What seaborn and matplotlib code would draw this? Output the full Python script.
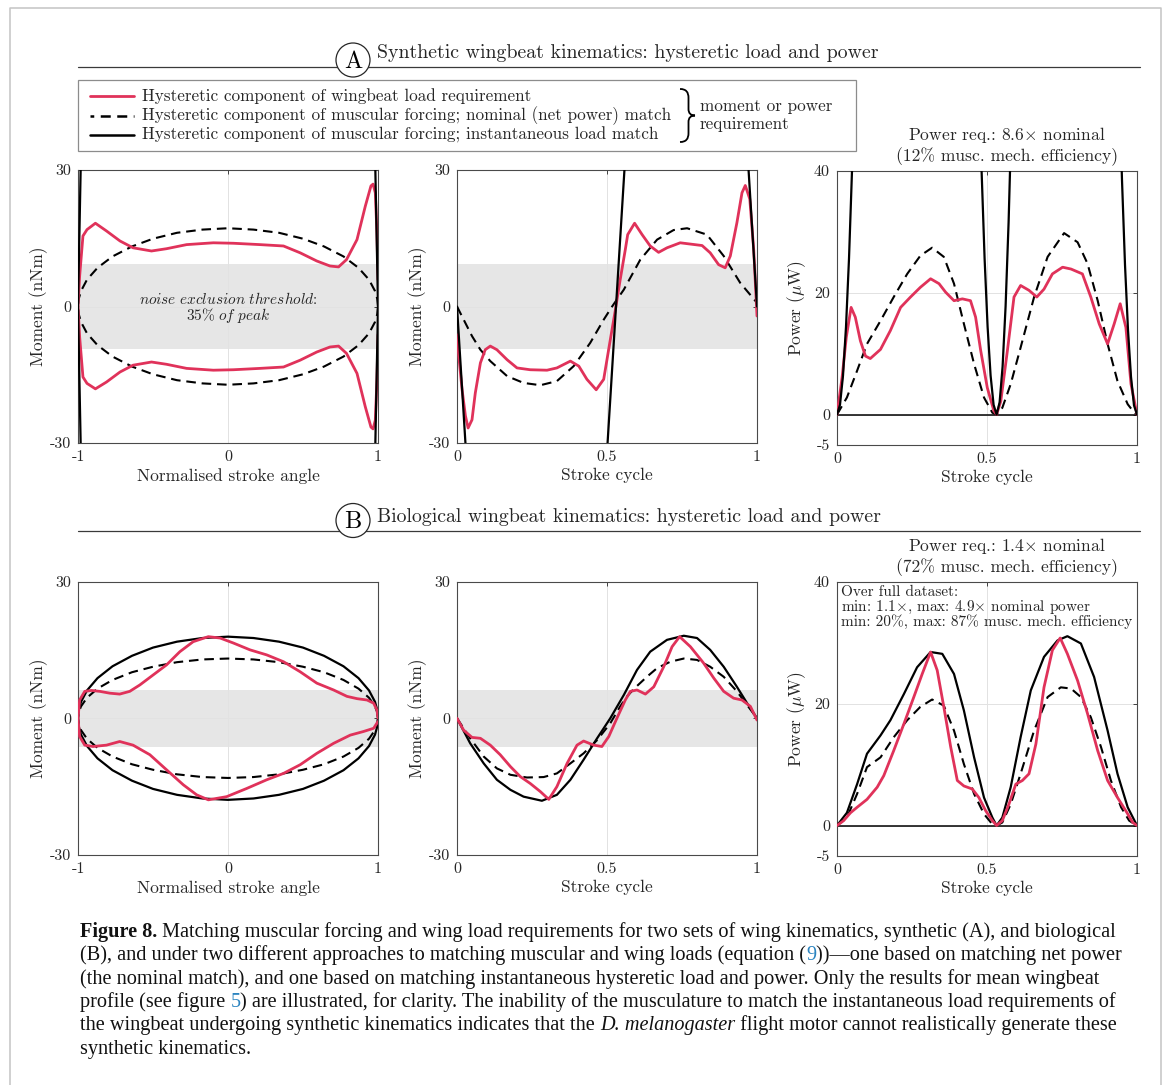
import matplotlib
matplotlib.use("Agg")
import matplotlib.pyplot as plt
import seaborn as sns
from matplotlib.patches import Circle, Rectangle, PathPatch
from matplotlib.path import Path

# ---------------------------------------------------------------- data
# Panel A (synthetic kinematics) -- moment vs stroke cycle
a_load_t = [0.000, 0.006, 0.017, 0.028, 0.037, 0.050, 0.061, 0.078, 0.094, 0.111, 0.133,
            0.167, 0.200, 0.244, 0.300, 0.333, 0.378, 0.406, 0.433, 0.464, 0.489, 0.511,
            0.528, 0.544, 0.561, 0.569, 0.592, 0.617, 0.644, 0.672, 0.700, 0.744, 0.817,
            0.844, 0.872, 0.894, 0.911, 0.933, 0.950, 0.961, 0.976, 0.989, 1.000]
a_load_m = [-6.2, -10.9, -18.3, -24.0, -26.7, -24.9, -19.0, -12.4, -9.5, -8.7, -9.5,
            -11.7, -13.5, -13.9, -14.0, -13.5, -12.0, -13.1, -16.0, -18.3, -16.0, -7.3,
            -0.7, 5.9, 12.5, 15.8, 18.3, 15.8, 13.3, 11.9, 12.9, 14.0, 13.4,
            11.8, 9.2, 8.5, 11.1, 18.4, 25.0, 26.6, 23.6, 12.5, -2.1]
a_nom_t = [0.0, 0.05, 0.078, 0.111, 0.167, 0.222, 0.278, 0.333, 0.389, 0.444, 0.489,
           0.517, 0.556, 0.611, 0.667, 0.722, 0.767, 0.833, 0.889, 0.944, 1.0]
a_nom_m = [0.0, -6.5, -9.5, -12.0, -15.3, -16.8, -17.3, -16.4, -13.1, -8.0, -2.9,
           0.0, 3.7, 10.3, 14.7, 16.8, 17.2, 15.8, 11.1, 5.2, 0.8]
a_inst_t = [0.0, 0.06, 0.27, 0.47, 0.53, 0.59, 0.77, 0.94, 1.0]
a_inst_m = [0.0, -64.0, -170.0, -64.0, 0.0, 64.0, 170.0, 64.0, 0.0]

# Panel A -- moment vs normalised stroke angle
a_ang_up = [-1.0, -0.989, -0.967, -0.94, -0.884, -0.81, -0.72, -0.633, -0.51, -0.41,
            -0.276, -0.098, 0.036, 0.214, 0.37, 0.481, 0.592, 0.68, 0.737, 0.79, 0.86,
            0.915, 0.953, 0.967, 0.982, 0.993, 1.0]
a_load_up = [0.0, 6.7, 15.5, 16.9, 18.3, 16.6, 14.4, 12.9, 12.2, 12.7, 13.6, 14.0, 13.9,
             13.6, 13.3, 11.8, 10.0, 8.9, 8.7, 10.3, 14.7, 22.0, 26.5, 26.9, 25.0, 16.2, 5.9]
a_ang_dn = [-1.0, -0.989, -0.967, -0.94, -0.884, -0.81, -0.72, -0.633, -0.51, -0.41,
            -0.276, -0.098, 0.036, 0.214, 0.37, 0.481, 0.592, 0.68, 0.737, 0.79, 0.86,
            0.915, 0.953, 0.967, 0.982, 0.993, 1.0]
a_load_dn = [0.0, -6.7, -15.5, -16.9, -18.1, -16.6, -14.4, -12.9, -12.2, -12.7, -13.6,
             -14.0, -13.9, -13.6, -13.3, -11.8, -10.0, -8.9, -8.7, -10.3, -14.7, -22.0,
             -26.5, -26.9, -25.0, -16.2, -6.2]
loop_angle = [1.0, 0.995, 0.98, 0.94, 0.87, 0.77, 0.64, 0.5, 0.34, 0.17, 0.0, -0.17,
              -0.34, -0.5, -0.64, -0.77, -0.87, -0.94, -0.98, -0.995, -1.0, -0.995,
              -0.98, -0.94, -0.87, -0.77, -0.64, -0.5, -0.34, -0.17, 0.0, 0.17, 0.34,
              0.5, 0.64, 0.77, 0.87, 0.94, 0.98, 0.995, 1.0]
a_nom_loop = [0.0, -1.7, -3.4, -5.9, -8.5, -11.0, -13.2, -14.9, -16.2, -16.9, -17.2,
              -16.9, -16.2, -14.9, -13.2, -11.0, -8.5, -5.9, -3.4, -1.7, 0.0, 1.7, 3.4,
              5.9, 8.5, 11.0, 13.2, 14.9, 16.2, 16.9, 17.2, 16.9, 16.2, 14.9, 13.2, 11.0,
              8.5, 5.9, 3.4, 1.7, 0.0]
a_inst_angle = [0.98, 1.0, 0.98, 0.0, -0.98, -1.0, -0.98, 0.0, 0.98]
a_inst_loop = [34.0, 0.0, -34.0, -170.0, -34.0, 0.0, 34.0, 170.0, 34.0]

# Panel A -- power vs stroke cycle
a_pow_load_t = [0.0, 0.017, 0.031, 0.047, 0.061, 0.078, 0.095, 0.111, 0.145, 0.178, 0.212,
                0.245, 0.278, 0.312, 0.34, 0.362, 0.39, 0.418, 0.445, 0.462, 0.479, 0.501,
                0.523, 0.532, 0.546, 0.568, 0.59, 0.612, 0.64, 0.666, 0.69, 0.718, 0.752,
                0.78, 0.818, 0.846, 0.874, 0.902, 0.924, 0.944, 0.963, 0.98, 1.0]
a_pow_load = [0.0, 6.1, 12.7, 17.6, 16.0, 12.1, 9.6, 9.2, 10.7, 13.8, 17.6, 19.3, 20.9,
              22.3, 21.5, 20.1, 18.7, 19.0, 18.7, 16.0, 10.5, 4.4, 0.6, 0.0, 2.2, 10.5,
              19.3, 21.2, 20.4, 19.3, 20.6, 23.1, 24.2, 23.9, 23.1, 19.3, 14.9, 11.6,
              14.9, 18.2, 14.3, 5.0, 0.0]
a_pow_nom_t = [0.0, 0.033, 0.067, 0.1, 0.145, 0.189, 0.234, 0.278, 0.317, 0.356, 0.39,
               0.423, 0.457, 0.49, 0.518, 0.532, 0.551, 0.579, 0.612, 0.657, 0.702, 0.757,
               0.802, 0.835, 0.869, 0.902, 0.935, 0.969, 0.991, 1.0]
a_pow_nom = [0.0, 2.8, 7.2, 11.6, 15.4, 19.3, 23.1, 26.1, 27.4, 25.9, 21.5, 14.9, 8.3,
             2.8, 0.3, 0.0, 1.1, 5.0, 11.0, 19.3, 25.9, 29.8, 28.3, 24.8, 18.7, 11.6, 5.5,
             1.7, 0.3, 0.0]
a_pow_inst_t = [0.0, 0.01, 0.02, 0.03, 0.04, 0.05, 0.06, 0.30, 0.47, 0.482, 0.492, 0.502,
                0.512, 0.522, 0.532, 0.542, 0.552, 0.562, 0.572, 0.582, 0.75, 0.94, 0.95,
                0.96, 0.97, 0.98, 0.99, 1.0]
a_pow_inst = [0.0, 1.6, 6.4, 14.4, 25.6, 40.0, 57.6, 300.0, 57.6, 40.0, 25.6, 14.4, 6.4,
              1.6, 0.0, 2.0, 7.9, 17.8, 31.6, 49.4, 300.0, 55.4, 38.5, 24.6, 13.9, 6.2,
              1.5, 0.0]

# Panel B (biological kinematics) -- moment vs stroke cycle
b_load_t = [0.0, 0.022, 0.05, 0.078, 0.111, 0.144, 0.178, 0.211, 0.244, 0.278, 0.306,
            0.333, 0.367, 0.4, 0.422, 0.456, 0.483, 0.506, 0.533, 0.561, 0.578, 0.6, 0.628,
            0.656, 0.689, 0.717, 0.742, 0.778, 0.822, 0.856, 0.889, 0.922, 0.95, 0.978, 1.0]
b_load_m = [0.0, -2.6, -4.2, -4.4, -5.9, -8.0, -10.6, -12.8, -14.3, -16.1, -17.8, -15.0,
            -9.9, -5.9, -5.0, -5.9, -6.2, -4.0, 0.0, 4.0, 5.9, 6.2, 5.3, 6.9, 11.3, 15.7,
            17.9, 15.7, 12.1, 8.8, 5.9, 4.4, 4.0, 2.6, -0.4]
b_nom_t = [0.0, 0.044, 0.089, 0.133, 0.178, 0.233, 0.289, 0.333, 0.378, 0.422, 0.467,
           0.511, 0.544, 0.567, 0.589, 0.633, 0.667, 0.711, 0.756, 0.8, 0.844, 0.889,
           0.933, 0.967, 1.0]
b_nom_m = [0.0, -4.4, -8.4, -11.0, -12.4, -13.0, -12.9, -12.1, -9.9, -7.7, -4.8, -1.1,
           2.6, 4.8, 6.4, 9.1, 11.0, 12.4, 13.1, 12.8, 11.3, 9.1, 5.9, 2.9, 0.0]
b_inst_t = [0.0, 0.044, 0.089, 0.133, 0.178, 0.222, 0.283, 0.333, 0.378, 0.422, 0.467,
            0.511, 0.556, 0.6, 0.644, 0.7, 0.756, 0.8, 0.844, 0.889, 0.933, 0.967, 1.0]
b_inst_m = [0.0, -5.5, -9.9, -13.5, -15.7, -17.2, -18.1, -16.8, -13.5, -9.1, -4.4, 0.0,
            5.1, 10.6, 14.6, 17.2, 18.1, 17.6, 15.0, 11.3, 6.9, 3.3, 0.0]

# Panel B -- moment vs normalised stroke angle
b_ang_up = [-1.0, -0.989, -0.955, -0.911, -0.855, -0.788, -0.722, -0.655, -0.588, -0.499,
            -0.41, -0.321, -0.232, -0.131, -0.053, 0.036, 0.147, 0.258, 0.37, 0.481,
            0.592, 0.704, 0.793, 0.86, 0.927, 0.971, 0.993, 1.0]
b_load_up = [0.0, 4.0, 5.9, 6.1, 5.9, 5.5, 5.3, 5.9, 7.3, 9.5, 11.7, 14.6, 16.8, 17.9,
             17.6, 16.5, 15.0, 13.9, 12.4, 10.2, 7.7, 6.2, 4.8, 4.3, 4.0, 3.3, 1.8, 0.0]
b_ang_dn = [-1.0, -0.989, -0.955, -0.9, -0.81, -0.722, -0.633, -0.521, -0.41, -0.298,
            -0.209, -0.131, -0.009, 0.125, 0.258, 0.37, 0.481, 0.592, 0.704, 0.815,
            0.904, 0.971, 1.0]
b_load_dn = [0.0, -4.0, -5.9, -6.2, -5.9, -5.1, -5.9, -8.0, -11.3, -14.6, -16.8, -17.9,
             -17.2, -15.4, -13.5, -12.1, -10.2, -7.7, -5.5, -3.7, -2.9, -2.2, -0.7]
b_nom_loop = [0.0, -1.3, -2.6, -4.5, -6.5, -8.4, -10.1, -11.3, -12.3, -12.9, -13.1,
              -12.9, -12.3, -11.3, -10.1, -8.4, -6.5, -4.5, -2.6, -1.3, 0.0, 1.3, 2.6,
              4.5, 6.5, 8.4, 10.1, 11.3, 12.3, 12.9, 13.1, 12.9, 12.3, 11.3, 10.1, 8.4,
              6.5, 4.5, 2.6, 1.3, 0.0]
b_inst_loop = [0.0, -1.8, -3.6, -6.1, -8.8, -11.4, -13.7, -15.5, -16.8, -17.6, -17.9,
               -17.6, -16.8, -15.5, -13.7, -11.4, -8.8, -6.1, -3.6, -1.8, 0.0, 1.8, 3.6,
               6.1, 8.8, 11.4, 13.7, 15.5, 16.8, 17.6, 17.9, 17.6, 16.8, 15.5, 13.7, 11.4,
               8.8, 6.1, 3.6, 1.8, 0.0]

# Panel B -- power vs stroke cycle
b_pow_load_t = [0.0, 0.022, 0.045, 0.067, 0.1, 0.134, 0.156, 0.189, 0.223, 0.256, 0.284,
                0.312, 0.334, 0.356, 0.379, 0.401, 0.423, 0.451, 0.473, 0.496, 0.518,
                0.532, 0.551, 0.573, 0.596, 0.618, 0.64, 0.663, 0.69, 0.718, 0.744, 0.768,
                0.802, 0.835, 0.869, 0.902, 0.935, 0.963, 0.986, 1.0]
b_pow_load = [0.0, 0.8, 2.1, 3.0, 4.3, 6.3, 8.2, 12.3, 16.7, 21.1, 24.9, 28.5, 25.5, 19.5,
              12.9, 7.4, 6.5, 6.0, 4.6, 2.4, 0.8, 0.0, 0.8, 3.5, 6.8, 7.4, 8.5, 13.4,
              22.7, 28.8, 30.8, 28.2, 23.8, 18.4, 12.3, 7.4, 4.6, 2.4, 0.5, 0.0]
b_pow_nom_t = [0.0, 0.033, 0.067, 0.1, 0.145, 0.189, 0.234, 0.278, 0.317, 0.356, 0.39,
               0.423, 0.457, 0.49, 0.518, 0.532, 0.551, 0.579, 0.612, 0.657, 0.702, 0.746,
               0.78, 0.813, 0.846, 0.88, 0.913, 0.947, 0.974, 1.0]
b_pow_nom = [0.0, 1.3, 5.2, 9.6, 11.2, 14.5, 17.3, 19.5, 20.7, 19.7, 15.6, 10.1, 5.2, 1.9,
             0.2, 0.0, 0.5, 3.5, 8.5, 15.6, 21.1, 22.7, 22.5, 21.1, 17.8, 12.9, 7.4, 3.0,
             0.8, 0.0]
b_pow_inst_t = [0.0, 0.033, 0.067, 0.1, 0.145, 0.178, 0.223, 0.267, 0.312, 0.351, 0.39,
                0.423, 0.457, 0.49, 0.518, 0.532, 0.551, 0.579, 0.612, 0.646, 0.69, 0.735,
                0.768, 0.813, 0.857, 0.902, 0.935, 0.969, 1.0]
b_pow_inst = [0.0, 2.1, 6.8, 11.8, 14.8, 17.3, 21.6, 26.0, 28.5, 28.2, 24.9, 18.9, 11.2,
              4.6, 1.3, 0.0, 1.3, 6.3, 14.5, 22.2, 27.7, 30.4, 31.1, 29.9, 24.4, 15.6, 8.5,
              3.0, 0.0]

moment_ticks = [-30, 0, 30]
moment_ticklabels = ["-30", "0", "30"]
angle_ticks = [-1, 0, 1]
angle_ticklabels = ["-1", "0", "1"]
cycle_ticks = [0, 0.5, 1]
cycle_ticklabels = ["0", "0.5", "1"]
power_ticks = [-5, 0, 20, 40]
power_ticklabels = ["-5", "0", "20", "40"]
thresholds = [9.3, 6.2]   # noise exclusion threshold (35 % of peak) for A and B

legend_labels = ["Hysteretic component of wingbeat load requirement",
                 "Hysteretic component of muscular forcing; nominal (net power) match",
                 "Hysteretic component of muscular forcing; instantaneous load match"]

# ---------------------------------------------------------------- style
sns.set_theme(style="white")
plt.rcParams["font.family"] = ["cmr10", "DejaVu Serif"]
plt.rcParams["mathtext.fontset"] = "cm"
plt.rcParams["axes.unicode_minus"] = False
plt.rcParams["axes.formatter.use_mathtext"] = True

RED = "#E0325A"
INK = "#262626"
DASH = (0, (4.6, 2.8))
W, H = 1171, 1085
fig = plt.figure(figsize=(W / 100, H / 100), dpi=100)
fig.patch.set_facecolor("white")


def add_ax(x0, y0, w, h):
    return fig.add_axes([x0 / W, 1 - (y0 + h) / H, w / W, h / H])


def curve(ax, x, y, color, lw, ls="-", z=3):
    sns.lineplot(x=x, y=y, ax=ax, sort=False, estimator=None, color=color,
                 linewidth=lw, linestyle=ls, zorder=z, legend=False)


def style(ax, xlim, ylim, xt, xtl, yt, ytl, xlabel, ylabel, ypad):
    ax.set_xlim(xlim)
    ax.set_ylim(ylim)
    ax.set_xticks(xt)
    ax.set_xticklabels(xtl)
    ax.set_yticks(yt)
    ax.set_yticklabels(ytl)
    ax.tick_params(direction="in", length=3, width=0.6, color=INK, labelcolor=INK,
                   labelsize=11.5, pad=5, top=True, right=True,
                   labeltop=False, labelright=False)
    ax.grid(True, color="#E2E2E2", lw=0.7)
    ax.set_axisbelow(True)
    for s in ax.spines.values():
        s.set_color("#4A4A4A")
        s.set_linewidth(0.8)
    ax.set_xlabel(xlabel, fontsize=12.5, color=INK, labelpad=3)
    ax.set_ylabel(ylabel, fontsize=12.5, color=INK, labelpad=ypad)


# ---------------------------------------------------------------- row A
ax = add_ax(78, 170, 300, 273)
ax.axhspan(-thresholds[0], thresholds[0], color="#E6E6E6", zorder=0.2, lw=0)
curve(ax, loop_angle, a_nom_loop, "black", 1.5, DASH)
curve(ax, a_ang_up, a_load_up, RED, 2.0, z=4)
curve(ax, a_ang_dn, a_load_dn, RED, 2.0, z=4)
curve(ax, a_inst_angle, a_inst_loop, "black", 1.6, z=5)
ax.text(0, 1.6, r"$\mathit{noise\ exclusion\ threshold}$:", ha="center", va="center",
        fontsize=11, color=INK)
ax.text(0, -1.9, r"$\mathit{35\%\ of\ peak}$", ha="center", va="center",
        fontsize=11, color=INK)
style(ax, (-1, 1), (-30, 30), angle_ticks, angle_ticklabels, moment_ticks,
      moment_ticklabels, "Normalised stroke angle", "Moment (nNm)", 1)

ax = add_ax(457, 170, 300, 273)
ax.axhspan(-thresholds[0], thresholds[0], color="#E6E6E6", zorder=0.2, lw=0)
curve(ax, a_nom_t, a_nom_m, "black", 1.5, DASH)
curve(ax, a_load_t, a_load_m, RED, 2.0, z=4)
curve(ax, a_inst_t, a_inst_m, "black", 1.6, z=5)
style(ax, (0, 1), (-30, 30), cycle_ticks, cycle_ticklabels, moment_ticks,
      moment_ticklabels, "Stroke cycle", "Moment (nNm)", 1)

ax = add_ax(837, 171, 300, 274)
ax.axhline(0, color="black", lw=1.1, zorder=2)
curve(ax, a_pow_nom_t, a_pow_nom, "black", 1.5, DASH)
curve(ax, a_pow_load_t, a_pow_load, RED, 2.0, z=4)
curve(ax, a_pow_inst_t, a_pow_inst, "black", 1.6, z=5)
style(ax, (0, 1), (-5, 40), cycle_ticks, cycle_ticklabels, power_ticks,
      power_ticklabels, "Stroke cycle", r"Power ($\mu$W)", 4)

# ---------------------------------------------------------------- row B
ax = add_ax(78, 581.5, 300, 273.5)
ax.axhspan(-thresholds[1], thresholds[1], color="#E6E6E6", zorder=0.2, lw=0)
curve(ax, loop_angle, b_nom_loop, "black", 1.5, DASH)
curve(ax, loop_angle, b_inst_loop, "black", 1.6)
curve(ax, b_ang_up, b_load_up, RED, 2.0, z=4)
curve(ax, b_ang_dn, b_load_dn, RED, 2.0, z=4)
style(ax, (-1, 1), (-30, 30), angle_ticks, angle_ticklabels, moment_ticks,
      moment_ticklabels, "Normalised stroke angle", "Moment (nNm)", 1)

ax = add_ax(457, 581.5, 300, 273.5)
ax.axhspan(-thresholds[1], thresholds[1], color="#E6E6E6", zorder=0.2, lw=0)
curve(ax, b_nom_t, b_nom_m, "black", 1.5, DASH)
curve(ax, b_inst_t, b_inst_m, "black", 1.6)
curve(ax, b_load_t, b_load_m, RED, 2.0, z=4)
style(ax, (0, 1), (-30, 30), cycle_ticks, cycle_ticklabels, moment_ticks,
      moment_ticklabels, "Stroke cycle", "Moment (nNm)", 1)

ax = add_ax(837, 582, 300, 274)
ax.axhline(0, color="black", lw=1.1, zorder=2)
curve(ax, b_pow_nom_t, b_pow_nom, "black", 1.5, DASH)
curve(ax, b_pow_inst_t, b_pow_inst, "black", 1.6)
curve(ax, b_pow_load_t, b_pow_load, RED, 2.0, z=4)
style(ax, (0, 1), (-5, 40), cycle_ticks, cycle_ticklabels, power_ticks,
      power_ticklabels, "Stroke cycle", r"Power ($\mu$W)", 4)

# ---------------------------------------------------------------- overlay (pixel coords)
ov = fig.add_axes([0, 0, 1, 1])
ov.set_xlim(0, W)
ov.set_ylim(H, 0)
ov.axis("off")
ov.patch.set_alpha(0)

# page frame
ov.plot([10, 10, 1161, 1161], [H, 8, 8, H], color="#C4C4C4", lw=1.1)

# section headers
for cy, letter, title, liney, tb in [
        (60, "A", "Synthetic wingbeat kinematics: hysteretic load and power", 66.5, 58.5),
        (520.5, "B", "Biological wingbeat kinematics: hysteretic load and power", 531, 522)]:
    ov.plot([78, 1140], [liney, liney], color="#3A3A3A", lw=0.9, zorder=2)
    ov.add_patch(Circle((353, cy), 17, fc="white", ec=INK, lw=0.9, zorder=3))
    ov.text(353, cy + 7.5, letter, ha="center", va="baseline", fontsize=17.5,
            color="black", zorder=4)
    ov.text(377, tb, title, ha="left", va="baseline", fontsize=14.3, color=INK)

# legend box
ov.add_patch(Rectangle((78, 80), 778, 71, fc="white", ec="#8C8C8C", lw=0.9, zorder=2))
leg_y = [96, 115.5, 135]
ov.plot([90, 134], [leg_y[0]] * 2, color=RED, lw=2.0, zorder=3)
ov.plot([90, 134], [leg_y[1]] * 2, color="black", lw=1.8, linestyle=(2.5, (4.0, 2.6)),
        zorder=3)
ov.plot([90, 134], [leg_y[2]] * 2, color="black", lw=1.8, zorder=3)
for yy, lab in zip(leg_y, legend_labels):
    ov.text(142, yy, lab, ha="left", va="center", fontsize=12.3, color=INK, zorder=3)
brace = Path([(680, 89), (686, 89), (688.5, 92), (688.5, 98), (688.5, 109),
              (688.5, 113), (690.5, 115.5), (695, 115.5), (690.5, 115.5), (688.5, 118),
              (688.5, 122), (688.5, 133), (688.5, 139), (686, 142), (680, 142)],
             [Path.MOVETO, Path.CURVE4, Path.CURVE4, Path.CURVE4, Path.LINETO,
              Path.CURVE4, Path.CURVE4, Path.CURVE4, Path.CURVE4, Path.CURVE4,
              Path.CURVE4, Path.LINETO, Path.CURVE4, Path.CURVE4, Path.CURVE4])
ov.add_patch(PathPatch(brace, fc="none", ec="black", lw=1.3, zorder=3))
ov.text(700, 106, "moment or power", ha="left", va="center", fontsize=12.3, color=INK,
        zorder=3)
ov.text(700, 124.5, "requirement", ha="left", va="center", fontsize=12.3, color=INK,
        zorder=3)

# power-panel titles
for y1, l1, l2 in [(135, r"Power req.: 8.6$\times$ nominal", "(12% musc. mech. efficiency)"),
                   (546, r"Power req.: 1.4$\times$ nominal", "(72% musc. mech. efficiency)")]:
    ov.text(1007, y1, l1, ha="center", va="center", fontsize=12.6, color=INK)
    ov.text(1007, y1 + 22, l2, ha="center", va="center", fontsize=12.6, color=INK)

# dataset annotation in B power panel
for yy, line in zip([592.5, 607, 621.5],
                    ["Over full dataset:",
                     r"min: 1.1$\times$, max: 4.9$\times$ nominal power",
                     "min: 20%, max: 87% musc. mech. efficiency"]):
    ov.text(841, yy, line, ha="left", va="center", fontsize=11, color=INK, zorder=5)

# caption
renderer = fig.canvas.get_renderer()
BLUE = "#2B84C0"
cap_lines = [
    [("Figure 8.", "b"), (" Matching muscular forcing and wing load requirements for two sets "
                          "of wing kinematics, synthetic (A), and biological", "n")],
    [("(B), and under two different approaches to matching muscular and wing loads "
      "(equation (", "n"), ("9", "blue"), ("))\u2014one based on matching net power", "n")],
    [("(the nominal match), and one based on matching instantaneous hysteretic load and "
      "power. Only the results for mean wingbeat", "n")],
    [("profile (see figure ", "n"), ("5", "blue"),
     (") are illustrated, for clarity. The inability of the musculature to match the "
      "instantaneous load requirements of", "n")],
    [("the wingbeat undergoing synthetic kinematics indicates that the ", "n"),
     ("D. melanogaster", "i"), (" flight motor cannot realistically generate these", "n")],
    [("synthetic kinematics.", "n")],
]
cap_base = [937, 960.3, 983.6, 1007, 1030.3, 1053.6]
for yb, pieces in zip(cap_base, cap_lines):
    x = 80
    for txt, kind in pieces:
        kw = dict(fontsize=14.6, family="Liberation Serif", va="baseline", ha="left",
                  color="#111111")
        if kind == "b":
            kw["weight"] = "bold"
        elif kind == "i":
            kw["style"] = "italic"
        elif kind == "blue":
            kw["color"] = BLUE
        t = ov.text(x, yb, txt, **kw)
        x += t.get_window_extent(renderer=renderer).width

fig.savefig("out.png", dpi=100)
